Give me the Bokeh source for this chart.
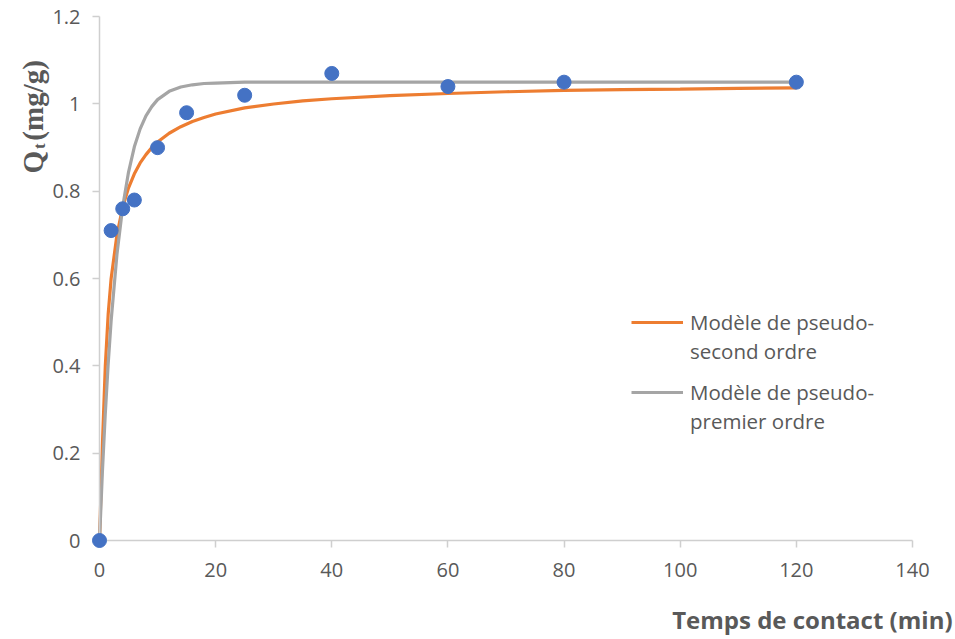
import math
from bokeh.plotting import figure
from bokeh.models import (Range1d, FixedTicker, Legend, LegendItem, Label,
                          ColumnDataSource, LinearAxis)
from bokeh.embed import file_html
from bokeh.resources import INLINE

# Experimental adsorption kinetics
t_exp = [0, 2, 4, 6, 10, 15, 25, 40, 60, 80, 120]
q_exp = [0, 0.71, 0.76, 0.78, 0.90, 0.98, 1.02, 1.07, 1.04, 1.05, 1.05]

# Pseudo-second order model curve
t_pso = [0, 0.5, 1, 1.5, 2, 3, 4, 5, 6, 7, 8, 9, 10, 12, 14, 16, 18, 20,
         25, 30, 35, 40, 50, 60, 70, 80, 90, 100, 110, 120]
q_pso = [0, 0.22, 0.40, 0.52, 0.60, 0.70, 0.764, 0.808, 0.840, 0.865, 0.884,
         0.900, 0.913, 0.933, 0.948, 0.960, 0.969, 0.977, 0.991, 1.000, 1.007,
         1.012, 1.019, 1.024, 1.028, 1.031, 1.033, 1.034, 1.036, 1.037]

# Pseudo-first order model curve
t_pfo = [0, 0.5, 1, 1.5, 2, 3, 4, 5, 6, 7, 8, 9, 10, 12, 14, 16, 18, 20,
         25, 30, 40, 60, 80, 100, 120]
q_pfo = [0, 0.158, 0.292, 0.406, 0.503, 0.655, 0.765, 0.844, 0.902, 0.943,
         0.973, 0.994, 1.010, 1.029, 1.039, 1.044, 1.047, 1.048, 1.050, 1.050,
         1.050, 1.050, 1.050, 1.050, 1.050]

x_ticks = [0, 20, 40, 60, 80, 100, 120, 140]
y_ticks = [0, 0.2, 0.4, 0.6, 0.8, 1.0, 1.2]
y_tick_labels = ["0", "0.2", "0.4", "0.6", "0.8", "1", "1.2"]

legend_pso = ["Modèle de pseudo-", "second ordre"]
legend_pfo = ["Modèle de pseudo-", "premier ordre"]
x_title = "Temps de contact (min)"

GREY_TXT = "#595959"
AXIS_GREY = "#CFCFCF"
SANS = "Open Sans"
SERIF = "Liberation Serif"

# The frame fills the canvas; the axes cross at the origin inside it
p = figure(width=955, height=639,
           x_range=Range1d(-17.05, 147.41), y_range=Range1d(-0.2268, 1.2371),
           x_axis_location=None, y_axis_location=None, title_location=None,
           output_backend="svg", toolbar_location=None, min_border=0)
p.outline_line_color = None
p.grid.visible = False
p.background_fill_color = "white"
p.border_fill_color = "white"

src_pso = ColumnDataSource(dict(t=t_pso, q=q_pso))
src_pfo = ColumnDataSource(dict(t=t_pfo, q=q_pfo))
src_exp = ColumnDataSource(dict(t=t_exp, q=q_exp))

xaxis = LinearAxis(fixed_location=0, bounds=(0, 140),
                   ticker=FixedTicker(ticks=x_ticks))
yaxis = LinearAxis(fixed_location=0, bounds=(0, 1.2),
                   ticker=FixedTicker(ticks=y_ticks))
yaxis.major_label_overrides = {v: s for v, s in zip(y_ticks, y_tick_labels)}
for ax in (xaxis, yaxis):
    ax.axis_line_color = AXIS_GREY
    ax.axis_line_width = 1.5
    ax.major_tick_line_color = AXIS_GREY
    ax.major_tick_line_width = 1.5
    ax.major_tick_out = 7
    ax.major_tick_in = 0
    ax.minor_tick_line_color = None
    ax.major_label_text_color = GREY_TXT
    ax.major_label_text_font = SANS
    ax.major_label_text_font_size = "20px"
xaxis.major_label_standoff = 15
yaxis.major_label_standoff = 12
p.add_layout(xaxis, "below")
p.add_layout(yaxis, "left")

r_pso = p.line("t", "q", source=src_pso, line_color="#ED7D31", line_width=3.2)
r_pfo = p.line("t", "q", source=src_pfo, line_color="#A5A5A5", line_width=3.2)
blank = p.line("t", "q", source=src_pso, line_alpha=0)
p.scatter("t", "q", source=src_exp, size=14, color="#4472C4", level="overlay")

# Two-line legend entries
def make_legend(lines, renderer, loc):
    leg = Legend(items=[LegendItem(label=lines[0], renderers=[renderer]),
                        LegendItem(label=lines[1], renderers=[blank])],
                 location=loc, orientation="vertical",
                 glyph_width=52, glyph_height=20, label_height=20,
                 label_standoff=7, spacing=1, padding=0, margin=0,
                 border_line_color=None, background_fill_alpha=0,
                 label_text_font=SANS, label_text_font_size="20.5px",
                 label_text_color=GREY_TXT)
    p.add_layout(leg, "center")

make_legend(legend_pso, r_pso, (631, 274))
make_legend(legend_pfo, r_pfo, (631, 204))

# Axis titles
p.add_layout(Label(x=146.9, y=-0.181, text=x_title, text_align="right",
                   text_baseline="middle", text_font=SANS,
                   text_font_style="bold", text_font_size="24px",
                   text_color=GREY_TXT))

p.add_layout(Label(x=-11.4, y=0.841, text="Q", angle=math.pi / 2,
                   text_align="left", text_baseline="alphabetic",
                   text_font=SERIF, text_font_style="bold",
                   text_font_size="29px", text_color=GREY_TXT))
p.add_layout(Label(x=-10.35, y=0.897, text="t", angle=math.pi / 2,
                   text_align="left", text_baseline="alphabetic",
                   text_font=SERIF, text_font_style="bold",
                   text_font_size="17px", text_color=GREY_TXT))
p.add_layout(Label(x=-11.4, y=0.916, text="(mg/g)", angle=math.pi / 2,
                   text_align="left", text_baseline="alphabetic",
                   text_font=SERIF, text_font_style="bold",
                   text_font_size="29px", text_color=GREY_TXT))

open("out.html", "w").write(file_html(p, INLINE))
